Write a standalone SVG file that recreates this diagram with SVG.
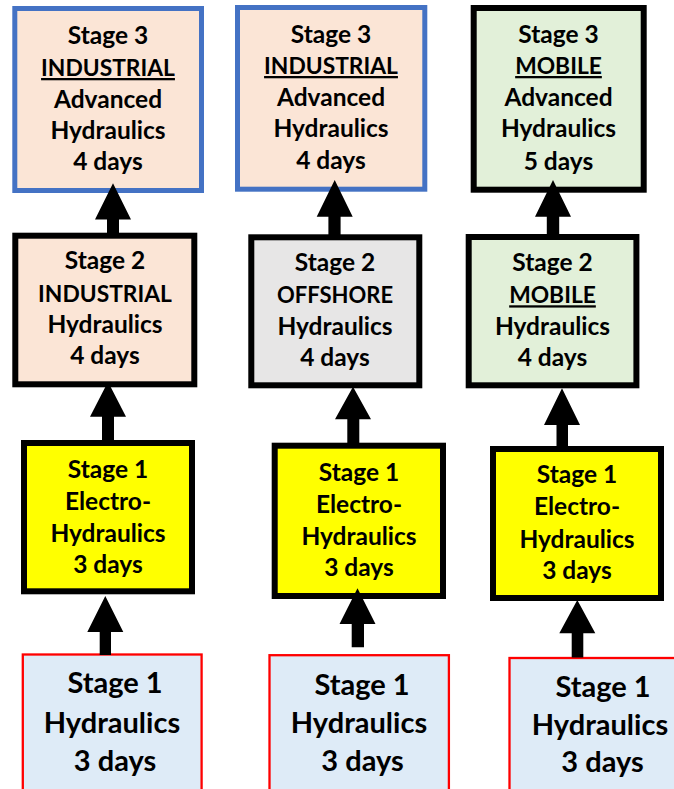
<svg xmlns="http://www.w3.org/2000/svg" width="674" height="789" viewBox="0 0 674 789">
<style>
text{font-family:"Lato","Liberation Sans",sans-serif;font-weight:bold;fill:#000;text-anchor:middle}
.m{font-size:24.5px}
.c{font-size:22.8px}
.o{font-size:22px}
.b{font-size:29px}
.u{text-decoration:underline}
.s3i{fill:#FBE5D6;stroke:#4472C4;stroke-width:5}
.s2i{fill:#FBE5D6;stroke:#000;stroke-width:6}
.s2o{fill:#E7E6E6;stroke:#000;stroke-width:6}
.mob{fill:#E2F0D9;stroke:#000;stroke-width:6}
.eh{fill:#FFFF00;stroke:#000;stroke-width:6}
.h{fill:#DEEBF7;stroke:#FF0000;stroke-width:2.3}
.arr{fill:#000}
</style>
<rect width="674" height="789" fill="#fff"/>

<g id="c1-stage3">
<rect class="s3i" x="14.8" y="8.5" width="186.7" height="182"/>
<text class="m" x="108" y="44">Stage 3</text>
<text class="c u" x="108" y="76">INDUSTRIAL</text>
<text class="m" x="108" y="107.5">Advanced</text>
<text class="m" x="108" y="139">Hydraulics</text>
<text class="m" x="108" y="169.5">4 days</text>
</g>
<g id="c1-stage2">
<rect class="s2i" x="15.3" y="235.7" width="179" height="148.6"/>
<text class="m" x="105" y="269">Stage 2</text>
<text class="c" x="105" y="301.5">INDUSTRIAL</text>
<text class="m" x="105" y="333">Hydraulics</text>
<text class="m" x="105" y="363.5">4 days</text>
</g>
<g id="c1-stage1eh">
<rect class="eh" x="24" y="443" width="168" height="148.3"/>
<text class="m" x="108" y="478">Stage 1</text>
<text class="m" x="108" y="510">Electro-</text>
<text class="m" x="108" y="541.7">Hydraulics</text>
<text class="m" x="108" y="573.3">3 days</text>
</g>
<g id="c1-stage1h">
<rect class="h" x="22.8" y="654.5" width="178.8" height="140"/>
<text class="b" x="115" y="693.3">Stage 1</text>
<text class="b" x="112" y="733.3">Hydraulics</text>
<text class="b" x="115" y="770.7">3 days</text>
</g>

<g id="c2-stage3">
<rect class="s3i" x="237.5" y="7.5" width="187.3" height="181.7"/>
<text class="m" x="331" y="43.3">Stage 3</text>
<text class="c u" x="331" y="74">INDUSTRIAL</text>
<text class="m" x="331" y="106">Advanced</text>
<text class="m" x="331" y="137.3">Hydraulics</text>
<text class="m" x="331" y="169.3">4 days</text>
</g>
<g id="c2-stage2">
<rect class="s2o" x="251.3" y="237.3" width="168" height="148"/>
<text class="m" x="335" y="271">Stage 2</text>
<text class="o" x="335" y="303.3">OFFSHORE</text>
<text class="m" x="335" y="335">Hydraulics</text>
<text class="m" x="335" y="366">4 days</text>
</g>
<g id="c2-stage1eh">
<rect class="eh" x="274.7" y="445.7" width="168.3" height="150.3"/>
<text class="m" x="359" y="480.7">Stage 1</text>
<text class="m" x="359" y="513.3">Electro-</text>
<text class="m" x="359" y="545">Hydraulics</text>
<text class="m" x="359" y="576">3 days</text>
</g>
<g id="c2-stage1h">
<rect class="h" x="269.5" y="655.2" width="179.4" height="140"/>
<text class="b" x="362" y="695">Stage 1</text>
<text class="b" x="359" y="733.3">Hydraulics</text>
<text class="b" x="362.5" y="770.7">3 days</text>
</g>

<g id="c3-stage3">
<rect class="mob" x="473.7" y="8" width="170" height="181.7"/>
<text class="m" x="558.5" y="43.3">Stage 3</text>
<text class="c u" x="558.5" y="74">MOBILE</text>
<text class="m" x="558.5" y="106">Advanced</text>
<text class="m" x="558.5" y="137.3">Hydraulics</text>
<text class="m" x="558.5" y="170">5 days</text>
</g>
<g id="c3-stage2">
<rect class="mob" x="468.7" y="237" width="167.7" height="148.3"/>
<text class="m" x="552.5" y="271">Stage 2</text>
<text class="c u" x="552.5" y="303.3">MOBILE</text>
<text class="m" x="552.5" y="335">Hydraulics</text>
<text class="m" x="552.5" y="366">4 days</text>
</g>
<g id="c3-stage1eh">
<rect class="eh" x="493" y="449" width="168" height="149"/>
<text class="m" x="577" y="483.3">Stage 1</text>
<text class="m" x="577" y="515">Electro-</text>
<text class="m" x="577" y="547.7">Hydraulics</text>
<text class="m" x="577" y="579.3">3 days</text>
</g>
<g id="c3-stage1h">
<rect class="h" x="509.5" y="658" width="200" height="140"/>
<text class="b" x="603" y="696.7">Stage 1</text>
<text class="b" x="600" y="735">Hydraulics</text>
<text class="b" x="602.5" y="772.3">3 days</text>
</g>

<g id="connectors" class="arr">
<polygon points="113,183.3 131,219.5 119,219.5 119,234 107,234 107,219.5 95,219.5"/>
<polygon points="108,381.7 126,416.7 114,416.7 114,441 102,441 102,416.7 90,416.7"/>
<polygon points="105.3,596 123.3,632 111,632 111,655 99.7,655 99.7,632 87.3,632"/>

<polygon points="334.7,180 352.7,216.7 340.6,216.7 340.6,236 328.4,236 328.4,216.7 316.7,216.7"/>
<polygon points="353,386.7 371,419.3 359.3,419.3 359.3,443.5 347.3,443.5 347.3,419.3 335,419.3"/>
<polygon points="357.5,588.3 375.5,624 364,624 364,647.3 351.7,647.3 351.7,624 339.5,624"/>

<polygon points="553,180 571,216.7 559.2,216.7 559.2,236 546.8,236 546.8,216.7 535,216.7"/>
<polygon points="562,388.3 580,425 568,425 568,450 556.5,450 556.5,425 544,425"/>
<polygon points="577.3,600 595.3,633.3 583.3,633.3 583.3,657.5 571.7,657.5 571.7,633.3 559.3,633.3"/>
</g>
</svg>
